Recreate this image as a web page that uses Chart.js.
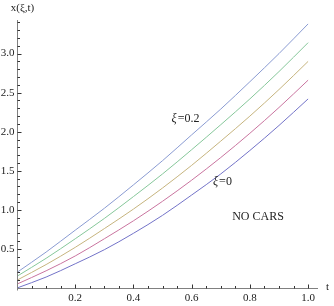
<!DOCTYPE html>
<html>
<head>
<meta charset="utf-8">
<script src="https://cdn.jsdelivr.net/npm/chart.js@4"></script>
<style>
  html, body { margin: 0; padding: 0; background: #fff; }
  #wrap { width: 334px; height: 306px; }
</style>
</head>
<body>
<div id="wrap"><canvas id="chart" width="334" height="306"></canvas></div>
<script>
// values, t = 0 .. 1 in steps of 0.1
const tValues = [0, 0.1, 0.2, 0.3, 0.4, 0.5, 0.6, 0.7, 0.8, 0.9, 1.0];
const xi020 = [0.20, 0.46, 0.74, 1.02, 1.32, 1.63, 1.96, 2.29, 2.64, 3.00, 3.38];
const xi015 = [0.15, 0.38, 0.63, 0.89, 1.17, 1.46, 1.77, 2.09, 2.42, 2.77, 3.14];
const xi010 = [0.10, 0.30, 0.52, 0.76, 1.01, 1.28, 1.57, 1.88, 2.20, 2.54, 2.90];
const xi005 = [0.05, 0.22, 0.41, 0.63, 0.86, 1.11, 1.38, 1.67, 1.98, 2.31, 2.66];
const xi000 = [0.00, 0.14, 0.31, 0.49, 0.70, 0.93, 1.19, 1.46, 1.76, 2.08, 2.42];

const xTickLabels = [0.2, 0.4, 0.6, 0.8, 1.0];
const yTickLabels = [0.5, 1.0, 1.5, 2.0, 2.5, 3.0];

const colors = ["#8a9bd2", "#86c79a", "#c6b47e", "#c9749f", "#7373c8"];
const series = [xi020, xi015, xi010, xi005, xi000];

function toPoints(arr) {
  return arr.map((v, i) => ({ x: tValues[i], y: v }));
}

const serif = "'Liberation Serif', 'DejaVu Serif', serif";

// italic xi followed by upright text, centred on (cx, cy)
function xiLabel(ctx, rest, cx, cy) {
  ctx.font = "italic 12px " + serif;
  const w1 = ctx.measureText("\u03BE").width;
  ctx.font = "12px " + serif;
  const w2 = ctx.measureText(rest).width;
  const left = cx - (w1 + w2) / 2;
  ctx.textAlign = "left";
  ctx.font = "italic 12px " + serif;
  ctx.fillText("\u03BE", left, cy);
  ctx.font = "12px " + serif;
  ctx.fillText(rest, left + w1 + 1, cy);
}

// draws Mathematica-style axes through the origin, plus the text notes
const axesPlugin = {
  id: "axesPlugin",
  afterDatasetsDraw(chart) {
    const ctx = chart.ctx;
    const xs = chart.scales.x;
    const ys = chart.scales.y;
    const x0 = Math.round(xs.getPixelForValue(0)) + 0.5;
    const y0 = Math.round(ys.getPixelForValue(0)) + 0.5;
    const xEnd = xs.getPixelForValue(xs.max);
    const yTop = ys.getPixelForValue(ys.max);

    ctx.save();
    ctx.strokeStyle = "#808080";
    ctx.lineWidth = 1;
    ctx.beginPath();
    ctx.moveTo(x0, y0 + 2);
    ctx.lineTo(x0, yTop);
    ctx.moveTo(x0, y0);
    ctx.lineTo(xEnd, y0);
    ctx.stroke();

    // ticks, pointing into the plot
    ctx.strokeStyle = "#333";
    ctx.beginPath();
    for (let k = 1; k * 0.05 <= xs.max + 1e-9; k++) {
      const px = Math.round(xs.getPixelForValue(k * 0.05)) + 0.5;
      const len = k % 4 === 0 ? 4 : 2.5;
      ctx.moveTo(px, y0);
      ctx.lineTo(px, y0 - len);
    }
    for (let k = 1; k * 0.1 <= ys.max + 1e-9; k++) {
      const py = Math.round(ys.getPixelForValue(k * 0.1)) + 0.5;
      const len = k % 5 === 0 ? 4 : 2.5;
      ctx.moveTo(x0, py);
      ctx.lineTo(x0 + len, py);
    }
    ctx.stroke();

    ctx.fillStyle = "#222";
    ctx.font = "11px " + serif;
    ctx.textAlign = "center";
    ctx.textBaseline = "top";
    xTickLabels.forEach(v => {
      ctx.fillText(v.toFixed(1), xs.getPixelForValue(v), y0 + 4);
    });
    ctx.textAlign = "right";
    ctx.textBaseline = "middle";
    yTickLabels.forEach(v => {
      ctx.fillText(v.toFixed(1), x0 - 3, ys.getPixelForValue(v));
    });

    // axis names
    ctx.textAlign = "left";
    ctx.fillText("t", xEnd + 8, y0 - 1);
    ctx.textAlign = "center";
    ctx.fillText("x(\u03BE,t)", x0 + 5, yTop - 12);

    // notes
    xiLabel(ctx, "=0.2", xs.getPixelForValue(0.577), ys.getPixelForValue(2.16));
    xiLabel(ctx, "=0", xs.getPixelForValue(0.704), ys.getPixelForValue(1.36));
    ctx.font = "12px " + serif;
    ctx.textAlign = "center";
    ctx.fillText("NO CARS", xs.getPixelForValue(0.828), ys.getPixelForValue(0.91));
    ctx.restore();
  }
};

new Chart(document.getElementById("chart"), {
  type: "line",
  data: {
    datasets: series.map((s, i) => ({
      data: toPoints(s),
      borderColor: colors[i],
      borderWidth: 1,
      pointRadius: 0,
      fill: false,
      cubicInterpolationMode: "monotone"
    }))
  },
  options: {
    responsive: false,
    animation: false,
    layout: { padding: { left: 17, right: 16, top: 20, bottom: 18 } },
    plugins: { legend: { display: false }, tooltip: { enabled: false } },
    scales: {
      x: { type: "linear", min: 0, max: 1.034, display: false },
      y: { type: "linear", min: 0, max: 3.43, display: false }
    }
  },
  plugins: [axesPlugin]
});
</script>
</body>
</html>
